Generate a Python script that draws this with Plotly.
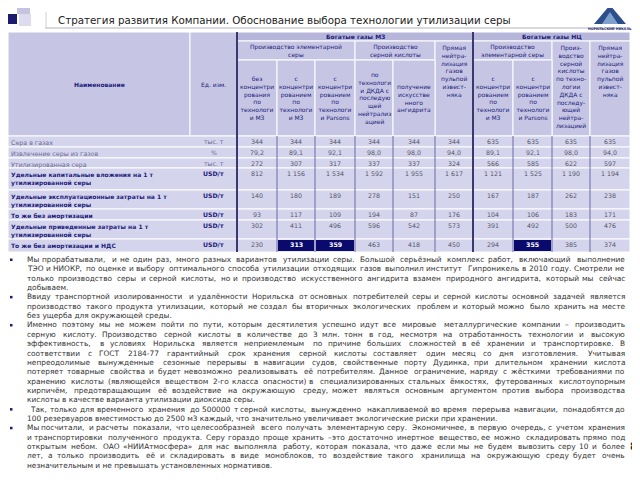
import plotly.graph_objects as go

# Данные таблицы
naimenovanie = [
    "Сера в газах",
    "Извлечение серы из газов",
    "Утилизированная сера",
    "Удельные капитальные вложения на 1 т<br>утилизированной серы",
    "Удельные эксплуатационные затраты на 1 т<br>утилизированной серы",
    "То же без амортизации",
    "Удельные приведенные затраты на 1 т<br>утилизированной серы",
    "То же без амортизации и НДС",
]
ed_izm = ["тыс. т", "%", "тыс. т", "USD/т", "USD/т", "USD/т", "USD/т", "USD/т"]
sera_v_gazah = ["344", "344", "344", "344", "344", "344", "635", "635", "635", "635"]
izvlechenie = ["79,2", "89,1", "92,1", "98,0", "98,0", "94,0", "89,1", "92,1", "98,0", "94,0"]
utilizirovannaya = ["272", "307", "317", "337", "337", "324", "566", "585", "622", "597"]
kap_vlozhenia = ["812", "1 156", "1 534", "1 592", "1 955", "1 617", "1 121", "1 525", "1 190", "1 194"]
ekspl_zatraty = ["140", "180", "189", "278", "151", "250", "167", "187", "262", "238"]
bez_amort = ["93", "117", "109", "194", "87", "176", "104", "106", "183", "171"]
privedennye = ["302", "411", "496", "596", "542", "573", "391", "492", "500", "476"]
bez_amort_nds = ["230", "313", "359", "463", "418", "450", "294", "355", "385", "374"]
znachenia = [sera_v_gazah, izvlechenie, utilizirovannaya, kap_vlozhenia,
             ekspl_zatraty, bez_amort, privedennye, bez_amort_nds]
vydelennye = [(7, 1), (7, 2), (7, 7)]  # (строка, колонка) выделенные ячейки

# Шапка таблицы: (кол. от, кол. до, строка от, строка до, текст, жирный, сверху)
shapka = [
    (0, 1, 0, 3, "Наименование", True, False),
    (1, 2, 0, 3, "Ед. изм.", False, False),
    (2, 8, 0, 1, "Богатые газы МЗ", True, False),
    (8, 12, 0, 1, "Богатые газы НЦ", True, False),
    (2, 5, 1, 2, "Производство элементарной<br>серы", False, False),
    (5, 7, 1, 2, "Производство<br>серной кислоты", False, False),
    (7, 8, 1, 3, "Прямая<br>нейтра-<br>лизация<br>газов<br>пульпой<br>извест-<br>няка", False, True),
    (8, 10, 1, 2, "Производство<br>элементарной серы", False, False),
    (10, 11, 1, 3, "Произ-<br>водство<br>серной<br>кислоты<br>по техно-<br>логии<br>ДКДА с<br>последу-<br>ющей<br>нейтра-<br>лизацией", False, True),
    (11, 12, 1, 3, "Прямая<br>нейтра-<br>лизация<br>газов<br>пульпой<br>извест-<br>няка", False, True),
    (2, 3, 2, 3, "без<br>концентри<br>рования<br>по<br>технологи<br>и МЗ", False, False),
    (3, 4, 2, 3, "с<br>концентри<br>рованием<br>по<br>технологи<br>и МЗ", False, False),
    (4, 5, 2, 3, "с<br>концентри<br>рованием<br>по<br>технологи<br>и Parsons", False, False),
    (5, 6, 2, 3, "по<br>технологи<br>и ДКДА с<br>последую<br>щей<br>нейтрализ<br>ацией", False, False),
    (6, 7, 2, 3, "получение<br>искусстве<br>нного<br>ангидрита", False, False),
    (8, 9, 2, 3, "с<br>концентри<br>рованием<br>по<br>технологи<br>и МЗ", False, False),
    (9, 10, 2, 3, "с<br>концентри<br>рованием<br>по<br>технологи<br>и Parsons", False, False),
]

zagolovok = "Стратегия развития Компании. Обоснование выбора технологии утилизации серы"

stroki_teksta = [
    "Мы прорабатывали, и не один раз, много разных вариантов утилизации серы. Большой серьёзный комплекс работ, включающий выполнение",
    "ТЭО и НИОКР, по оценке и выбору оптимального способа утилизации отходящих газов выполнил институт Гипроникель в 2010  году. Смотрели не",
    "только производство серы и серной кислоты, но и производство искусственного ангидрита взамен природного ангидрита, который мы сейчас",
    "добываем.",
    "Ввиду транспортной изолированности и удалённости Норильска от основных потребителей серы и серной кислоты основной задачей является",
    "производство такого продукта утилизации, который не создал бы вторичных экологических проблем и который можно было хранить на месте",
    "без ущерба для окружающей среды.",
    "Именно поэтому мы не можем пойти по  пути, которым десятилетия успешно идут все мировые металлургические компании – производить",
    "серную кислоту. Производство серной кислоты в количестве до 3 млн. тонн в год, несмотря на отработанность технологии и высокую",
    "эффективность, в условиях Норильска является неприемлемым по причине больших сложностей в её хранении и транспортировке. В",
    "соответствии с ГОСТ 2184-77 гарантийный срок хранения серной кислоты составляет один месяц со дня изготовления. Учитывая",
    "непреодолимые вынужденные сезонные перерывы в навигации судов, свойственные порту Дудинка, при длительном хранении кислота",
    "потеряет товарные свойства и будет невозможно реализовывать её потребителям. Данное ограничение, наряду с жёсткими требованиями по",
    "хранению кислоты (являющейся веществом 2-го класса опасности) в специализированных стальных ёмкостях, футерованных кислотоупорным",
    "кирпичём, предотвращающим её воздействие на окружающую среду, может являться основным аргументом против выбора производства",
    "кислоты в качестве варианта утилизации диоксида серы.",
    " Так, только для временного хранения до 500000 т серной кислоты, вынужденно накапливаемой во время перерыва навигации, понадобятся до",
    "100 резервуаров вместимостью до 2500 м3 каждый, что значительно увеличивает экологические риски при хранении.",
    "Мы посчитали, и расчеты показали, что целесообразней всего получать элементарную серу. Экономичнее, в первую очередь, с учетом хранения",
    "и транспортировки полученного продукта. Серу гораздо проще хранить – это достаточно инертное вещество, ее можно складировать прямо под",
    "открытым небом. ОАО «НИИАтмосфера» для нас выполняла работу, которая показала, что даже если мы не будем вывозить серу 10 и более",
    "лет, а только производить её и складировать в виде моноблоков, то воздействие такого хранилища на окружающую среду будет очень",
    "незначительным и не превышать установленных нормативов.",
]
markery = [0, 4, 7, 16, 18]          # строки, начинающие абзац
konec_abzaca = [3, 6, 15, 17, 22]    # строки без выравнивания по ширине

# Геометрия (пиксели окна)
kolonki_x = [8, 190, 237, 277, 315, 355, 393, 435, 473, 513, 552, 590, 630]
shapka_y = [32, 41, 60, 136]
vysoty_strok = [11, 11, 10, 22, 19, 11, 19, 13]
stroki_y = [136]
for h in vysoty_strok:
    stroki_y.append(stroki_y[-1] + h)

temno_sin = "#1c1c7c"
shrift = "DejaVu Sans"

# примерные ширины символов DejaVu Sans (доли кегля) для выравнивания по ширине
shiriny = {" ": 0.318, ",": 0.318, ".": 0.318, ":": 0.337, "-": 0.361, "(": 0.39, ")": 0.39,
           "«": 0.557, "»": 0.557, "–": 0.5, "i": 0.278, "r": 0.411, "t": 0.392,
           "а": 0.613, "б": 0.623, "в": 0.59, "г": 0.49, "д": 0.654, "е": 0.615, "ё": 0.615,
           "ж": 0.885, "з": 0.534, "и": 0.649, "й": 0.649, "к": 0.581, "л": 0.636, "м": 0.745,
           "н": 0.646, "о": 0.612, "п": 0.634, "р": 0.635, "с": 0.55, "т": 0.509, "у": 0.592,
           "ф": 0.955, "х": 0.592, "ц": 0.657, "ч": 0.6, "ш": 0.913, "щ": 0.927, "ъ": 0.689,
           "ы": 0.83, "ь": 0.591, "э": 0.536, "ю": 0.869, "я": 0.601}


def shirina(s, size):
    w = 0.0
    for ch in s:
        if ch in shiriny:
            w += shiriny[ch]
        elif ch.isdigit():
            w += 0.636
        elif ch.isupper():
            w += 0.72
        else:
            w += 0.6
    return w * size * 1.06  # небольшой запас, чтобы слова не слипались


fig = go.Figure()
shapes = []
annotations = []

# Шапка
for c0, c1, r0, r1, txt, bold, top in shapka:
    fon = "#b6b6da" if (r0 == 0 and c0 >= 2) else "#c6c6e4"
    shapes.append(dict(type="rect", x0=kolonki_x[c0], x1=kolonki_x[c1],
                       y0=shapka_y[r0], y1=shapka_y[r1], fillcolor=fon,
                       line=dict(color="white", width=1), layer="below"))
    xc = (kolonki_x[c0] + kolonki_x[c1]) / 2
    if top:
        yc, ya = shapka_y[r0] + 1, "top"
    else:
        yc, ya = (shapka_y[r0] + shapka_y[r1]) / 2, "middle"
    t = "<b>" + txt + "</b>" if bold else txt
    annotations.append(dict(x=xc, y=yc, text=t, showarrow=False, xanchor="center",
                            yanchor=ya, align="center",
                            font=dict(family=shrift, size=6.0, color=temno_sin)))

# Тело таблицы
for i, name in enumerate(naimenovanie):
    y0, y1 = stroki_y[i], stroki_y[i + 1]
    shapes.append(dict(type="rect", x0=kolonki_x[0], x1=kolonki_x[-1], y0=y0, y1=y1,
                       fillcolor="#d4d4ec", line=dict(color="white", width=1), layer="below"))
    vazhnaya = ed_izm[i] == "USD/т"
    cvet = temno_sin if vazhnaya else "#6a6a96"
    t = "<b>" + name + "</b>" if vazhnaya else name
    annotations.append(dict(x=kolonki_x[0] + 1, y=y0 + 1, text=t, showarrow=False,
                            xanchor="left", yanchor="top", align="left",
                            font=dict(family=shrift, size=6.0 if vazhnaya else 6.3, color=cvet)))
    annotations.append(dict(x=(kolonki_x[1] + kolonki_x[2]) / 2, y=y0 + 5.5,
                            text=("<b>" + ed_izm[i] + "</b>") if vazhnaya else ed_izm[i],
                            showarrow=False, xanchor="center", yanchor="middle",
                            font=dict(family=shrift, size=6.2, color=cvet)))
    for j, v in enumerate(znachenia[i]):
        xa, xb = kolonki_x[j + 2], kolonki_x[j + 3]
        if (i, j) in vydelennye:
            shapes.append(dict(type="rect", x0=xa + 1, x1=xb - 1, y0=y0 + 1, y1=y1 - 1,
                               fillcolor="#0a0a6e", line=dict(width=0), layer="below"))
            t, cv = "<b>" + v + "</b>", "white"
        else:
            t, cv = v, "#55556a"
        annotations.append(dict(x=(xa + xb) / 2, y=y0 + 5.5, text=t, showarrow=False,
                                xanchor="center", yanchor="middle",
                                font=dict(family=shrift, size=6.3, color=cv)))

# Вертикальные линии в теле таблицы
for x in kolonki_x[3:-1]:
    if x == 473:
        continue
    shapes.append(dict(type="line", x0=x, x1=x, y0=stroki_y[0], y1=stroki_y[-1],
                       line=dict(color="#6a6aa6", width=1)))
for x in [237, 473]:
    shapes.append(dict(type="line", x0=x, x1=x, y0=shapka_y[0], y1=stroki_y[-1],
                       line=dict(color="#3a3a70", width=2)))

# Заголовок и оформление
shapes += [
    dict(type="rect", x0=17, x1=30, y0=2, y1=14, fillcolor="#c4c4e0", line=dict(width=0)),
    dict(type="rect", x0=19, x1=31, y0=14, y1=26, fillcolor="#dcdcee", line=dict(width=0)),
    dict(type="rect", x0=8, x1=17, y0=14, y1=24, fillcolor="#1c1c6e", line=dict(width=0)),
    dict(type="rect", x0=45, x1=622, y0=27, y1=29, fillcolor="#d8d8e0", line=dict(width=0)),
    dict(type="line", x0=46, x1=46, y0=12, y1=28, line=dict(color="#d0d0d8", width=1)),
    dict(type="path", path="M 594 24 L 610 5 L 626 24 Z", fillcolor="#2c4f8c", line=dict(width=0)),
    dict(type="path", path="M 602 24 L 610 12 L 618 24 Z", fillcolor="#7fa0cc", line=dict(width=0)),
]
annotations.append(dict(x=56, y=20, text=zagolovok, showarrow=False, xanchor="left",
                        yanchor="middle", font=dict(family=shrift, size=10.3, color="#222222")))
annotations.append(dict(x=610, y=28, text="<b>НОРИЛЬСКИЙ НИКЕЛЬ</b>", showarrow=False,
                        xanchor="center", yanchor="middle",
                        font=dict(family=shrift, size=3.3, color="#1c1c6e")))

# Текст с маркерами, выровненный по ширине
razmer = 7.4
levo, pravo = 26, 626
for n, s in enumerate(stroki_teksta):
    y = 259.5 + n * 9.35
    x_start = levo + (3 if s.startswith(" ") else 0)
    shr = dict(family=shrift, size=razmer, color="#333333")
    if n in konec_abzaca:
        annotations.append(dict(x=x_start, y=y, text=s.strip(), showarrow=False, xanchor="left",
                                yanchor="middle", borderpad=0, font=shr))
    else:
        slova = s.split()
        dliny = [shirina(w, razmer) for w in slova]
        zazor = max((pravo - x_start - sum(dliny)) / (len(slova) - 1), 1.0)
        pol = len(slova) // 2
        x = x_start
        for w, d in zip(slova[:pol], dliny[:pol]):
            annotations.append(dict(x=x, y=y, text=w, showarrow=False, xanchor="left",
                                    yanchor="middle", borderpad=0, font=shr))
            x += d + zazor
        x = pravo
        for w, d in zip(slova[pol:][::-1], dliny[pol:][::-1]):
            annotations.append(dict(x=x, y=y, text=w, showarrow=False, xanchor="right",
                                    yanchor="middle", borderpad=0, font=shr))
            x -= d + zazor
    if n in markery:
        shapes.append(dict(type="rect", x0=10, x1=12.5, y0=y - 1, y1=y + 1.5,
                           fillcolor="#1c1c6e", line=dict(width=0)))

annotations.append(dict(x=633, y=446, text="<b>8</b>", showarrow=False, xanchor="center",
                        yanchor="middle", font=dict(family=shrift, size=10.5, color="#222222")))

# страница имеет отступ 8 px, поэтому оси сдвинуты так, чтобы координаты совпадали с окном
fig.update_layout(
    width=632, height=472,
    margin=dict(l=0, r=0, t=0, b=0),
    paper_bgcolor="white", plot_bgcolor="white",
    xaxis=dict(range=[8, 640], visible=False, fixedrange=True),
    yaxis=dict(range=[480, 8], visible=False, fixedrange=True),
    shapes=shapes, annotations=annotations, showlegend=False,
)
fig.write_html("out.html")
